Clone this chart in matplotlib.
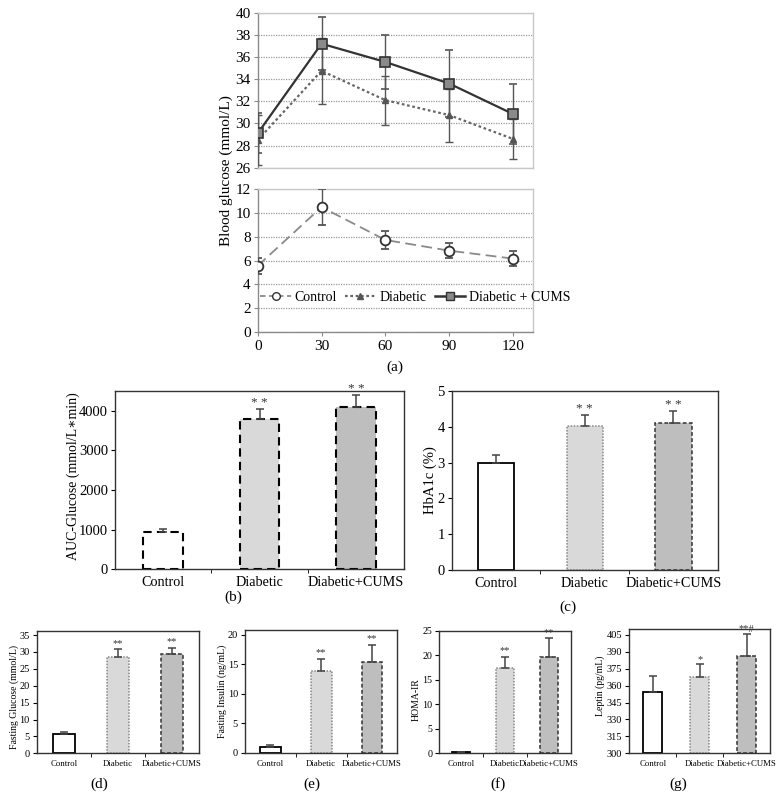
import matplotlib
matplotlib.use('Agg')
import matplotlib.pyplot as plt
from matplotlib.lines import Line2D
import numpy as np

plt.rcParams['font.family'] = ['Liberation Serif', 'DejaVu Serif']
plt.rcParams['axes.linewidth'] = 1.0

# ---------------- data ----------------
time_min = [0, 30, 60, 90, 120]
ctrl_glu = [5.55, 10.5, 7.73, 6.83, 6.16]
ctrl_glu_err = [0.65, 1.5, 0.72, 0.63, 0.65]
dia_glu = [28.5, 34.75, 32.1, 30.75, 28.6]
dia_glu_err = [2.3, 3.0, 2.2, 2.4, 1.8]
cums_glu = [29.1, 37.2, 35.55, 33.6, 30.85]
cums_glu_err = [1.8, 2.4, 2.4, 3.0, 2.7]

groups = ['Control', 'Diabetic', 'Diabetic+CUMS']
auc_mean = [930, 3790, 4085]
auc_err = [95, 260, 300]
auc_stars = ['', '* *', '* *']

hba1c_mean = [2.98, 4.02, 4.11]
hba1c_err = [0.22, 0.31, 0.33]
hba1c_stars = ['', '* *', '* *']

fglu_mean = [5.7, 28.6, 29.3]
fglu_err = [0.5, 2.2, 1.9]
fglu_stars = ['', '**', '**']

fins_mean = [0.95, 13.8, 15.3]
fins_err = [0.3, 2.1, 3.0]
fins_stars = ['', '**', '**']

homa_mean = [0.25, 17.4, 19.6]
homa_err = [0.1, 2.3, 3.9]
homa_stars = ['', '**', '**']

leptin_mean = [354.7, 367.6, 386.6]
leptin_err = [13.8, 11.4, 19.2]
leptin_stars = ['', '*', '**#']

# ---------------- figure ----------------
W, H = 783, 811
fig = plt.figure(figsize=(W / 100, H / 100), dpi=100)


def ax_px(x0, x1, y0, y1):
    return fig.add_axes([x0 / W, 1 - y1 / H, (x1 - x0) / W, (y1 - y0) / H])


def ftext(x, y, s, **kw):
    fig.text(x / W, 1 - y / H, s, ha='center', va='center', **kw)


# ---------------- panel (a) ----------------
light = '#c8c8c8'
grid_c = '#9a9a9a'
ax_top = ax_px(257.7, 533, 12.7, 167.7)
ax_bot = ax_px(257.7, 533, 189.3, 331.7)
for ax in (ax_top, ax_bot):
    ax.set_xlim(0, 129.4)
    for s in ('top', 'right', 'bottom'):
        ax.spines[s].set_color(light)
    ax.spines['left'].set_color('#8a8a8a')
    ax.tick_params(axis='y', labelsize=11, length=3, color='#8a8a8a', pad=2)
    ax.set_axisbelow(True)

ax_top.set_ylim(26, 40)
ax_top.set_yticks(np.arange(26, 41, 2))
ax_top.set_xticks([])
ax_top.yaxis.grid(True, linestyle=(0, (1, 1)), color=grid_c, linewidth=0.9)

ax_bot.set_ylim(0, 12)
ax_bot.set_yticks(np.arange(0, 13, 2))
ax_bot.set_xticks(time_min)
ax_bot.tick_params(axis='x', labelsize=11, length=3, color='#8a8a8a', pad=3)
ax_bot.spines['bottom'].set_color('#8a8a8a')
ax_bot.yaxis.grid(True, linestyle=(0, (1, 1)), color=grid_c, linewidth=0.9)

ax_top.errorbar(time_min, dia_glu, yerr=dia_glu_err, color='#666666', linestyle=(0, (1.2, 1.2)),
                linewidth=1.6, marker='^', markersize=4.5, markerfacecolor='#555555',
                markeredgecolor='#555555', ecolor='#555555', elinewidth=1, capsize=3, zorder=3)
ax_top.errorbar(time_min, cums_glu, yerr=cums_glu_err, color='#333333', linestyle='-',
                linewidth=1.6, marker='s', markersize=7, markerfacecolor='#8a8a8a',
                markeredgecolor='#333333', markeredgewidth=1.2, ecolor='#555555',
                elinewidth=1, capsize=3, zorder=4)
ax_bot.errorbar(time_min, ctrl_glu, yerr=ctrl_glu_err, color='#8a8a8a', linestyle=(0, (6, 3)),
                linewidth=1.3, marker='o', markersize=7, markerfacecolor='white',
                markeredgecolor='#333333', markeredgewidth=1.3, ecolor='#555555',
                elinewidth=1, capsize=3, zorder=3)

handles = [
    Line2D([], [], color='#8a8a8a', linestyle=(0, (3, 2)), linewidth=1.3, marker='o',
           markersize=5.5, markerfacecolor='white', markeredgecolor='#333333'),
    Line2D([], [], color='#666666', linestyle=(0, (1.2, 1.2)), linewidth=1.6, marker='^',
           markersize=4.5, markerfacecolor='#555555', markeredgecolor='#555555'),
    Line2D([], [], color='#333333', linestyle='-', linewidth=1.8, marker='s', markersize=5.5,
           markerfacecolor='#8a8a8a', markeredgecolor='#333333'),
]
ax_bot.legend(handles, ['Control', 'Diabetic', 'Diabetic + CUMS'], loc='center left',
              bbox_to_anchor=(0.0, 0.24), ncol=3, frameon=False, fontsize=10,
              handlelength=2.2, handletextpad=0.25, columnspacing=0.6, borderaxespad=0,
              borderpad=0.2)

ftext(226, 171, 'Blood glucose (mmol/L)', rotation=90, fontsize=11)
ftext(395, 367, '(a)', fontsize=11)

# ---------------- bar panels ----------------
fills = ['white', '#d9d9d9', '#bebebe']


def bar_panel(rect, means, errs, stars, ylim, yticks, edge_styles, fs_tick, fs_xt,
              star_fs, width=0.41, ecolor='#444444', star_off=2):
    ax = ax_px(*rect)
    x = np.arange(len(means))
    for i in range(len(means)):
        ec, ls, lw = edge_styles[i]
        ax.bar(x[i], means[i] - ylim[0], bottom=ylim[0], width=width, color=fills[i],
               edgecolor=ec, linestyle=ls, linewidth=lw, zorder=2)
    ax.errorbar(x, means, yerr=[np.zeros(len(errs)), errs], fmt='none', ecolor=ecolor,
                elinewidth=1.1, capsize=3, capthick=1.1, zorder=3)
    for i, s in enumerate(stars):
        if s:
            ax.annotate(s, (x[i], means[i] + errs[i]), xytext=(0, star_off),
                        textcoords='offset points', ha='center', va='bottom',
                        fontsize=star_fs, color='#333333')
    ax.set_xlim(-0.5, 2.5)
    ax.set_ylim(*ylim)
    ax.set_yticks(yticks)
    ax.set_xticks(x)
    ax.set_xticklabels(groups)
    ax.set_xticks([0.5, 1.5], minor=True)
    ax.tick_params(axis='x', which='major', length=0, labelsize=fs_xt, pad=5)
    ax.tick_params(axis='x', which='minor', length=3, direction='out')
    ax.tick_params(axis='y', labelsize=fs_tick, length=3, direction='out', pad=2)
    for s in ax.spines.values():
        s.set_color('#333333')
    return ax


styles_b = [('black', (0, (4, 2.5)), 1.5)] * 3
styles_c = [('black', '-', 1.3), ('#888888', (0, (1, 1)), 1.1), ('#333333', (0, (2.5, 1.5)), 1.1)]

# (b)
bar_panel((115, 404.3, 390.9, 569.3), auc_mean, auc_err, auc_stars, (0, 4500),
          [0, 1000, 2000, 3000, 4000], styles_b, 10.5, 10.2, 9.5, star_off=0)
ftext(73, 476, 'AUC-Glucose (mmol/L\u2217min)', rotation=90, fontsize=10)
ftext(233, 597, '(b)', fontsize=11)

# (c)
bar_panel((451.7, 717.7, 391, 570), hba1c_mean, hba1c_err, hba1c_stars, (0, 5),
          [0, 1, 2, 3, 4, 5], styles_c, 10.5, 10.2, 9.5, star_off=0)
ftext(430, 480, 'HbA1c (%)', rotation=90, fontsize=10.5)
ftext(568, 607, '(c)', fontsize=11)

# (d)
bar_panel((36.7, 199, 631, 753.3), fglu_mean, fglu_err, fglu_stars, (0, 36.2),
          [0, 5, 10, 15, 20, 25, 30, 35], styles_c, 7.5, 6.3, 7.5, star_off=1)
ftext(14, 697, 'Fasting Glucose (mmol/L)', rotation=90, fontsize=7)
ftext(99, 784, '(d)', fontsize=11)

# (e)
bar_panel((245, 397.3, 630, 752.7), fins_mean, fins_err, fins_stars, (0, 20.8),
          [0, 5, 10, 15, 20], styles_c, 7.5, 6.3, 7.5, star_off=1)
ftext(222, 691, 'Fasting Insulin (ng/mL)', rotation=90, fontsize=7)
ftext(312, 784, '(e)', fontsize=11)

# (f)
bar_panel((439.3, 571, 631, 753.3), homa_mean, homa_err, homa_stars, (0, 25),
          [0, 5, 10, 15, 20, 25], styles_c, 7.2, 6.3, 7.5, star_off=1)
ftext(416, 700, 'HOMA-IR', rotation=90, fontsize=7)
ftext(498, 784, '(f)', fontsize=11)

# (g)
bar_panel((629.3, 770, 629.3, 753.3), leptin_mean, leptin_err, leptin_stars, (300, 410),
          [300, 315, 330, 345, 360, 375, 390, 405], styles_c, 7.5, 6.3, 7.5, star_off=0)
ftext(600, 686, 'Leptin (pg/mL)', rotation=90, fontsize=7)
ftext(678, 784, '(g)', fontsize=11)

fig.savefig('out.png', dpi=100)
